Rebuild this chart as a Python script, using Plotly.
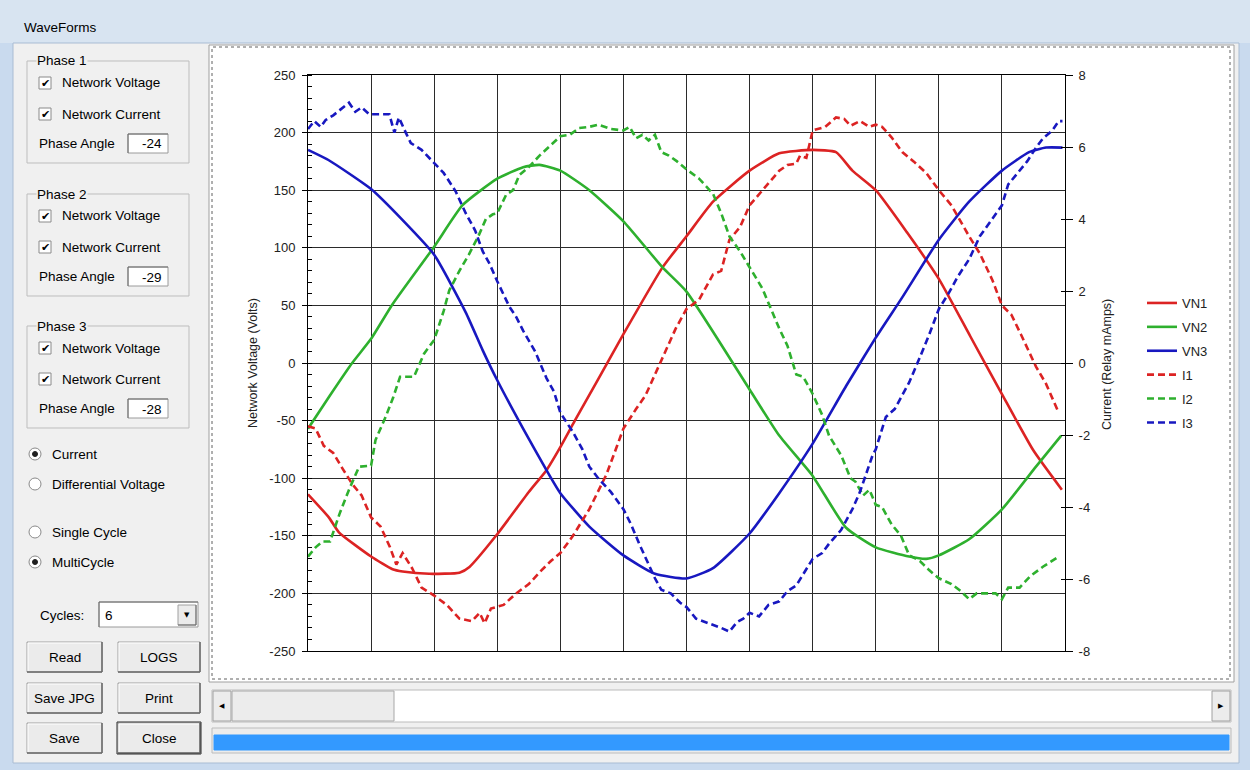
import plotly.graph_objects as go

# ---------------- data (x in grid divisions, voltages in V, currents in relay mA) ----------------
t_vn1 = [0, 0.33, 0.49, 1.0, 1.34, 1.5, 1.92, 2.4, 2.56, 2.98, 3.5, 3.78, 4.0, 4.23, 4.57, 5.0, 5.62, 6.0,
         6.42, 7.0, 7.47, 8.0, 8.37, 8.63, 9.0, 9.5, 10.0, 10.5, 11.0, 11.5, 11.95]
vn1 = [-114, -134, -147, -168, -179, -181, -183, -182, -177, -150, -112, -93, -73, -50, -17, 25, 83, 110,
       140, 167, 182, 185, 183, 167, 150, 113, 73, 23, -27, -76, -110]

t_vn2 = [0, 0.35, 0.7, 1.0, 1.34, 2.0, 2.45, 3.0, 3.41, 3.67, 4.0, 4.46, 5.0, 5.62, 6.0, 7.0, 7.47, 8.0,
         8.53, 9.0, 9.53, 9.8, 10.0, 10.48, 11.0, 11.54, 11.94]
vn2 = [-57, -28, 0, 21, 51, 101, 137, 160, 170, 172, 167, 150, 123, 83, 62, -23, -63, -98,
       -143, -160, -168, -170, -167, -153, -127, -90, -63]

t_vn3 = [0, 0.33, 1.0, 1.5, 2.0, 2.5, 2.77, 3.0, 3.41, 3.78, 4.0, 4.46, 5.0, 5.5, 6.0, 6.42, 7.0, 7.47,
         8.0, 8.53, 9.0, 9.42, 10.0, 10.48, 11.0, 11.43, 11.7, 11.96]
vn3 = [185, 176, 151, 124, 94, 44, 11, -15, -57, -93, -113, -142, -167, -183, -187, -178, -148, -113,
       -70, -20, 22, 57, 107, 140, 167, 183, 187, 187]

t_i1 = [0, 0.12, 0.25, 0.4, 0.55, 0.7, 0.85, 1.0, 1.15, 1.3, 1.4, 1.5, 1.65, 1.8, 2.0, 2.2, 2.4, 2.6,
        2.72, 2.8, 2.9, 3.1, 3.3, 3.5, 3.7, 3.85, 4.0, 4.2, 4.46, 4.6, 4.73, 4.9, 5.0, 5.2, 5.35, 5.5,
        5.65, 5.83, 6.0, 6.2, 6.42, 6.55, 6.68, 6.85, 7.0, 7.2, 7.47, 7.6, 7.74, 7.8, 7.9, 8.0, 8.2,
        8.37, 8.5, 8.6, 8.75, 8.9, 9.0, 9.1, 9.25, 9.42, 9.6, 9.8, 10.0, 10.2, 10.35, 10.48, 10.65,
        10.85, 11.0, 11.15, 11.3, 11.54, 11.7, 11.9]
i1 = [-1.76, -1.82, -2.30, -2.50, -2.94, -3.36, -3.68, -4.29, -4.54, -5.12, -5.60, -5.28, -5.70, -6.24,
      -6.46, -6.72, -7.10, -7.17, -6.94, -7.23, -6.82, -6.72, -6.40, -6.14, -5.76, -5.50, -5.28, -4.80,
      -4.06, -3.58, -3.10, -2.30, -1.82, -1.28, -0.90, -0.32, 0.26, 0.96, 1.50, 1.76, 2.46, 2.56, 3.42,
      3.78, 4.38, 4.80, 5.34, 5.50, 5.54, 5.76, 5.70, 6.46, 6.56, 6.82, 6.78, 6.59, 6.72, 6.56, 6.62,
      6.56, 6.27, 5.86, 5.60, 5.28, 4.80, 4.38, 3.90, 3.52, 3.04, 2.30, 1.60, 1.34, 0.80, -0.10, -0.58,
      -1.38]

t_i2 = [0, 0.12, 0.23, 0.35, 0.5, 0.65, 0.81, 0.95, 1.0, 1.07, 1.23, 1.35, 1.46, 1.6, 1.68, 1.84, 2.0,
        2.15, 2.24, 2.4, 2.55, 2.7, 2.82, 2.93, 3.0, 3.14, 3.25, 3.35, 3.5, 3.67, 3.8, 4.0, 4.15, 4.3,
        4.46, 4.6, 4.8, 5.0, 5.1, 5.2, 5.3, 5.4, 5.5, 5.6, 5.72, 5.85, 6.0, 6.2, 6.42, 6.55, 6.68, 6.85,
        7.0, 7.2, 7.47, 7.6, 7.74, 7.85, 8.0, 8.15, 8.26, 8.45, 8.6, 8.68, 8.8, 8.9, 9.0, 9.1, 9.25, 9.4,
        9.53, 9.7, 9.85, 10.0, 10.2, 10.35, 10.48, 10.6, 10.75, 10.9, 11.0, 11.1, 11.28, 11.45, 11.65,
        11.9]
i2 = [-5.38, -5.12, -4.96, -4.96, -4.19, -3.52, -2.88, -2.85, -2.85, -2.14, -1.50, -0.96, -0.38, -0.38,
      -0.38, 0.26, 0.64, 1.44, 2.02, 2.56, 3.01, 3.52, 4.00, 4.13, 4.16, 4.67, 4.80, 5.22, 5.44, 5.76,
      5.98, 6.30, 6.34, 6.53, 6.56, 6.62, 6.50, 6.46, 6.56, 6.24, 6.34, 6.18, 6.34, 5.86, 5.76, 5.60,
      5.38, 5.12, 4.70, 4.16, 3.52, 3.10, 2.66, 2.08, 0.96, 0.48, -0.32, -0.38, -0.86, -1.44, -2.02,
      -2.56, -3.20, -3.30, -3.68, -3.52, -3.94, -4.00, -4.48, -4.80, -5.34, -5.50, -5.76, -5.98, -6.14,
      -6.34, -6.56, -6.40, -6.40, -6.40, -6.56, -6.24, -6.24, -5.92, -5.66, -5.38]

t_i3 = [0, 0.1, 0.2, 0.28, 0.4, 0.54, 0.65, 0.75, 0.85, 0.97, 1.1, 1.29, 1.37, 1.44, 1.55, 1.63, 1.8,
        2.0, 2.15, 2.34, 2.5, 2.65, 2.77, 2.88, 3.0, 3.19, 3.3, 3.41, 3.6, 3.78, 3.9, 4.0, 4.2, 4.35,
        4.46, 4.6, 4.8, 5.0, 5.12, 5.25, 5.4, 5.5, 5.6, 5.75, 5.9, 6.0, 6.15, 6.3, 6.42, 6.55, 6.68, 6.8,
        6.9, 7.0, 7.15, 7.3, 7.47, 7.6, 7.74, 7.85, 8.0, 8.15, 8.26, 8.45, 8.63, 8.75, 8.84, 8.95, 9.0,
        9.16, 9.3, 9.53, 9.7, 9.85, 10.0, 10.15, 10.3, 10.48, 10.65, 10.85, 11.0, 11.1, 11.28, 11.4,
        11.54, 11.65, 11.8, 11.9, 11.96]
i3 = [6.50, 6.72, 6.56, 6.75, 6.88, 7.07, 7.23, 6.98, 7.10, 6.91, 6.91, 6.91, 6.40, 6.82, 6.40, 6.11,
      5.92, 5.57, 5.28, 4.77, 4.16, 3.68, 3.10, 2.75, 2.27, 1.57, 1.28, 0.90, 0.32, -0.42, -0.80, -1.38,
      -1.92, -2.40, -2.88, -3.20, -3.58, -4.06, -4.48, -5.02, -5.60, -5.98, -6.30, -6.40, -6.66, -6.78,
      -7.10, -7.20, -7.26, -7.36, -7.46, -7.20, -7.10, -6.94, -7.04, -6.72, -6.62, -6.34, -6.18, -5.86,
      -5.44, -5.28, -5.02, -4.64, -4.06, -3.58, -3.10, -2.56, -2.40, -1.50, -1.28, -0.54, 0.16, 0.80,
      1.50, 1.92, 2.40, 2.88, 3.52, 4.00, 4.38, 4.96, 5.34, 5.60, 5.98, 6.24, 6.46, 6.72, 6.72]

series_names = ["VN1", "VN2", "VN3", "I1", "I2", "I3"]
volt_ticks = [250, 200, 150, 100, 50, 0, -50, -100, -150, -200, -250]
curr_ticks = [8, 6, 4, 2, 0, -2, -4, -6, -8]
phase_angles = ["-24", "-29", "-28"]
cycles = "6"

RED, GREEN, BLUE = "#dc2323", "#2eb02e", "#1818c0"

# ---------------- figure geometry (pixels) ----------------
W, H = 1250, 770
L, R, T, B = 308, 1065, 75, 651
UIFONT = "Liberation Sans, Arial, sans-serif"
UISIZE = 13.5


def PX(x):
    return (x - L) / (R - L)


def PY(y):
    return (B - y) / (B - T)


shapes, annots = [], []


def rect(x0, y0, x1, y1, fill="rgba(0,0,0,0)", line="rgba(0,0,0,0)", lw=1, dash="solid", layer="below"):
    shapes.append(dict(type="rect", xref="paper", yref="paper", x0=PX(x0), x1=PX(x1), y0=PY(y1), y1=PY(y0),
                       fillcolor=fill, line=dict(color=line, width=lw, dash=dash), layer=layer))


def seg(x0, y0, x1, y1, color, lw=1, layer="below"):
    shapes.append(dict(type="line", xref="paper", yref="paper", x0=PX(x0), x1=PX(x1), y0=PY(y0), y1=PY(y1),
                       line=dict(color=color, width=lw), layer=layer))


def circ(x0, y0, x1, y1, fill, line, lw=1):
    shapes.append(dict(type="circle", xref="paper", yref="paper", x0=PX(x0), x1=PX(x1), y0=PY(y1), y1=PY(y0),
                       fillcolor=fill, line=dict(color=line, width=lw), layer="below"))


def text(x, y, s, size=UISIZE, anchor="left", color="#000000", bg=None, angle=0, family=UIFONT):
    a = dict(xref="paper", yref="paper", x=PX(x), y=PY(y), text=s, showarrow=False, xanchor=anchor,
             yanchor="middle", font=dict(size=size, color=color, family=family), textangle=angle)
    if bg:
        a["bgcolor"] = bg
        a["borderpad"] = 0
    annots.append(a)


# window frame / client area
rect(0, 0, W, 43, fill="#d8e4f1")
text(22, 28, "WaveForms", size=13.5)
rect(13, 43, 1239, 763, fill="#f0f0f0", line="#a9bcd3")

# chart frame
rect(209, 45, 1234, 682, fill="#ffffff", line="#a0a0a0")
rect(212, 47, 1230, 679, line="#606060", dash="dot")


def checkbox(x, y):
    rect(x, y, x + 12, y + 12, fill="#ffffff", line="#8a8a8a")
    text(x + 6.5, y + 6.5, "✔", size=11, anchor="center", family="DejaVu Sans")


def button(x0, y0, x1, y1, label, default=False):
    rect(x0, y0, x1, y1, fill="#ebebeb", line="#a0a0a0")
    seg(x0 + 1, y0 + 1, x1 - 1, y0 + 1, "#ffffff")
    seg(x0 + 1, y0 + 1, x0 + 1, y1 - 1, "#ffffff")
    seg(x0, y1, x1, y1, "#696969", 1.5)
    seg(x1, y0, x1, y1, "#696969", 1.5)
    if default:
        rect(x0 - 1, y0 - 1, x1 + 1, y1 + 1, line="#2a2a2a")
    text((x0 + x1) / 2, (y0 + y1) / 2, label, anchor="center")


# Phase group boxes
for k, off in enumerate([0, 133, 265]):
    rect(27, 61 + off, 189, 163 + off, line="#bdbdbd")
    text(36, 61 + off, "Phase %d" % (k + 1), bg="#f0f0f0")
    checkbox(39, 77 + off)
    text(60, 83 + off, "Network Voltage")
    checkbox(39, 108 + off)
    text(60, 114 + off, "Network Current")
    text(37, 143 + off, "Phase Angle")
    rect(128, 134 + off, 168, 153 + off, fill="#ffffff", line="#9a9a9a")
    seg(128, 134 + off, 168, 134 + off, "#6d6d6d")
    seg(128, 134 + off, 128, 153 + off, "#6d6d6d")
    text(164, 144 + off, phase_angles[k], anchor="right")


def radio(y, label, selected):
    circ(29, y - 6, 41, y + 6, "#ffffff", "#8a8a8a")
    if selected:
        circ(32.5, y - 2.5, 37.5, y + 2.5, "#202020", "#202020")
    text(50, y, label)


radio(454, "Current", True)
radio(484, "Differential Voltage", False)
radio(532, "Single Cycle", False)
radio(562, "MultiCycle", True)

# cycles combo
text(38, 615, "Cycles:")
rect(99, 602, 198, 627, fill="#ffffff", line="#9a9a9a")
seg(99, 602, 198, 602, "#6d6d6d")
seg(99, 602, 99, 627, "#6d6d6d")
text(103, 615, cycles)
rect(178, 605, 196, 625, fill="#ebebeb", line="#a0a0a0")
seg(178, 625, 196, 625, "#696969")
seg(196, 605, 196, 625, "#696969")
text(187, 615, "▼", size=7, anchor="center", family="DejaVu Sans")

# buttons
button(27, 642, 102, 672, "Read")
button(118, 642, 200, 672, "LOGS")
button(27, 683, 102, 713, "Save JPG")
button(118, 683, 200, 713, "Print")
button(27, 723, 102, 753, "Save")
button(118, 723, 200, 753, "Close", default=True)

# scrollbar
rect(212, 690, 1231, 722, fill="#ffffff", line="#bcbcbc")
rect(213, 691, 231, 721, fill="#ececec", line="#a0a0a0")
text(222, 706, "◀", size=7, anchor="center", family="DejaVu Sans")
rect(232, 691, 394, 721, fill="#ececec", line="#a8a8a8")
rect(1212, 691, 1230, 721, fill="#ececec", line="#a0a0a0")
text(1221, 706, "▶", size=7, anchor="center", family="DejaVu Sans")

# progress bar
rect(212, 728, 1231, 753, fill="#ececec", line="#bcbcbc")
rect(214, 735, 1229, 750, fill="#3399ff", line="#3399ff")

# axis titles
text(253, 363, "Network Voltage (Volts)", size=12.5, anchor="center", angle=-90, color="#222222")
text(1107, 365, "Current (Relay mAmps)", size=12.5, anchor="center", angle=-90, color="#222222")

# ---------------- traces ----------------
fig = go.Figure()
volt = [(t_vn1, vn1, RED), (t_vn2, vn2, GREEN), (t_vn3, vn3, BLUE)]
curr = [(t_i1, i1, RED), (t_i2, i2, GREEN), (t_i3, i3, BLUE)]
for (tx, vy, c), nm in zip(volt, series_names[:3]):
    fig.add_trace(go.Scatter(x=tx, y=vy, mode="lines", name=nm, legendgroup=nm,
                             line=dict(color=c, width=2.6, shape="spline", smoothing=0.5),
                             yaxis="y", hoverinfo="skip"))
for (tx, iy, c), nm in zip(curr, series_names[3:]):
    fig.add_trace(go.Scatter(x=tx, y=iy, mode="lines", name=nm, legendgroup=nm,
                             line=dict(color=c, width=2.6, dash="7px,4px"), yaxis="y2", hoverinfo="skip"))
# helper axis for the inner half of the right-hand ticks
fig.add_trace(go.Scatter(x=[], y=[], yaxis="y3", showlegend=False, hoverinfo="skip"))

TICKFONT = dict(family=UIFONT, size=13, color="#222222")
fig.update_layout(
    width=W, height=H,
    margin=dict(l=L, r=W - R, t=T, b=H - B, pad=0),
    paper_bgcolor="#c9daee",
    plot_bgcolor="rgba(0,0,0,0)",
    showlegend=True,
    legend=dict(x=PX(1142), y=PY(288), xanchor="left", yanchor="top", bgcolor="rgba(0,0,0,0)",
                font=dict(family=UIFONT, size=13, color="#222222"), tracegroupgap=4,
                traceorder="grouped", itemwidth=30),
    xaxis=dict(range=[0, 12], tick0=0, dtick=1, showgrid=True, gridcolor="#2b2b2b", gridwidth=1,
               showticklabels=False, ticks="", showline=True, linecolor="#000000", linewidth=1,
               mirror=True, zeroline=False, fixedrange=True),
    yaxis=dict(range=[-250, 250], tickmode="array", tickvals=volt_ticks,
               ticktext=[str(v) for v in volt_ticks], showgrid=True, gridcolor="#2b2b2b", gridwidth=1,
               ticks="outside", ticklen=5, tickcolor="#000000", showline=True, linecolor="#000000",
               zeroline=False, tickfont=TICKFONT, ticklabelstandoff=4,
               minor=dict(dtick=10, ticks="inside", ticklen=4, tickcolor="#000000", showgrid=False)),
    yaxis2=dict(range=[-8, 8], tickmode="array", tickvals=curr_ticks, ticktext=[str(v) for v in curr_ticks],
                overlaying="y", side="right", anchor="x",
                showgrid=False, ticks="outside", ticklen=7, tickcolor="#000000", showline=True,
                linecolor="#000000", zeroline=False, tickfont=TICKFONT, ticklabelstandoff=3),
    yaxis3=dict(range=[-8, 8], tickmode="array", tickvals=curr_ticks, overlaying="y", side="right", anchor="x",
                showgrid=False, ticks="inside", ticklen=4, tickcolor="#000000", showline=False,
                showticklabels=False, zeroline=False),
    shapes=shapes,
    annotations=annots,
)

fig.write_html("out.html", config={"displayModeBar": False},
               post_script="document.body.style.margin='0';document.body.style.overflow='hidden';")
